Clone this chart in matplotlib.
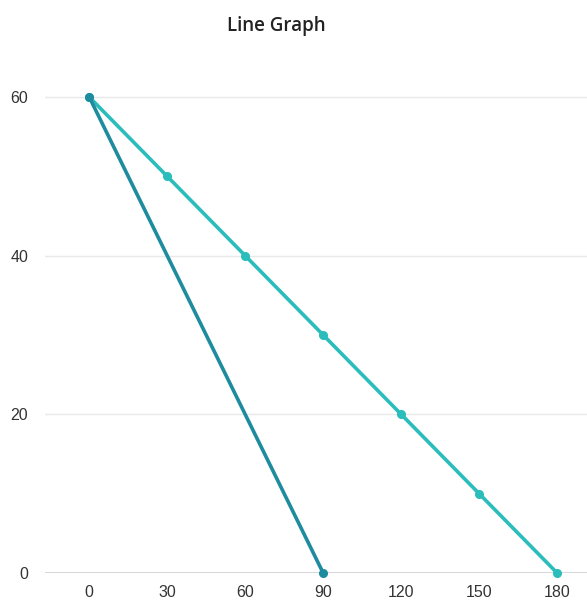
import matplotlib.pyplot as plt

x_fast = [0, 90]
y_fast = [60, 0]

x_slow = [0, 30, 60, 90, 120, 150, 180]
y_slow = [60, 50, 40, 30, 20, 10, 0]

x_ticks = [0, 30, 60, 90, 120, 150, 180]
y_ticks = [0, 20, 40, 60]

fig = plt.figure(figsize=(5.87, 6.06), dpi=100)
ax = fig.add_axes([0.0767, 0.0545, 0.9233, 0.864])

ax.plot(x_slow, y_slow, color="#2bbcbc", lw=2.6, marker="o", ms=5.5,
        clip_on=False, zorder=3)
ax.plot(x_fast, y_fast, color="#1e8c9e", lw=2.6, marker="o", ms=5.5,
        clip_on=False, zorder=4)

ax.set_xlim(-17, 191.5)
ax.set_ylim(0, 66)
ax.set_xticks(x_ticks)
ax.set_yticks(y_ticks)
ax.tick_params(length=0, labelsize=11.5, labelcolor="#333333")
ax.tick_params(axis="x", pad=9)
ax.tick_params(axis="y", pad=12)
for lbl in ax.get_xticklabels() + ax.get_yticklabels():
    lbl.set_family("Liberation Sans")

ax.grid(axis="y", color="#e8e8e8", lw=1)
ax.axhline(0, color="#cccccc", lw=1.2, zorder=1)
for s in ax.spines.values():
    s.set_visible(False)

fig.text(0.47, 0.957, "Line Graph", ha="center", va="center",
         fontsize=13.5, fontfamily="Open Sans", fontweight="semibold",
         color="#222222")

fig.savefig("out.png", dpi=100)
